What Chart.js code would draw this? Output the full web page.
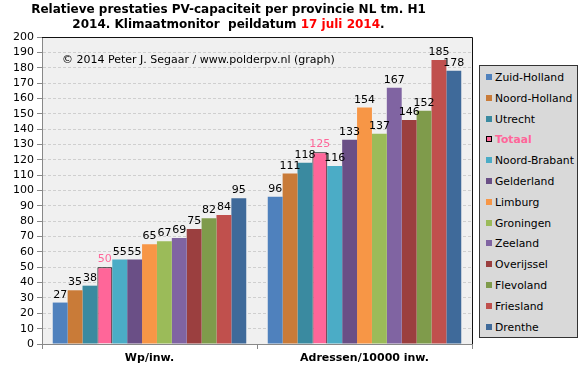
<!DOCTYPE html>
<html>
<head>
<meta charset="utf-8">
<script src="https://cdn.jsdelivr.net/npm/chart.js@4"></script>
<style>
body{margin:0;background:#fff;font-family:'DejaVu Sans',Verdana,sans-serif;}
#wrap{position:relative;width:581px;height:371px;}
#title{position:absolute;left:0;width:457px;top:2px;text-align:center;font-weight:bold;font-size:12px;line-height:15px;color:#000;}
#title span{color:#ff0000;}
#copy{position:absolute;left:62px;top:53px;font-size:11px;color:#000;}
#legend{position:absolute;left:479px;top:65px;width:97px;height:271px;background:#d9d9d9;border:1px solid #333;}
.li{position:absolute;left:6px;font-size:10.8px;line-height:14px;white-space:nowrap;}
.sw{display:inline-block;width:6px;height:6px;margin-right:3px;vertical-align:1px;}
</style>
</head>
<body>
<div id="wrap">
<canvas id="c" width="581" height="371"></canvas>
<div id="title">Relatieve prestaties PV-capaciteit per provincie NL tm. H1<br>2014. Klimaatmonitor&nbsp; peildatum <span>17 juli 2014</span>.</div>
<div id="copy">© 2014 Peter J. Segaar / www.polderpv.nl (graph)</div>
<div id="legend"></div>
</div>
<script>
const categories=['Wp/inw.','Adressen/10000 inw.'];
const provincies=['Zuid-Holland','Noord-Holland','Utrecht','Totaal','Noord-Brabant','Gelderland','Limburg','Groningen','Zeeland','Overijssel','Flevoland','Friesland','Drenthe'];
const wpPerInw=[27,35,38,50,55,55,65,67,69,75,82,84,95];
const adressenPer10000=[96,111,118,125,116,133,154,137,167,146,152,185,178];
const kleuren=['#4f81bd','#c97b38','#3a8aa0','#ff6699','#4bacc6','#6a4f86','#f79646','#9bbb59','#8064a2','#9b3f3f','#7f9b4b','#c0504d','#3f6a9a'];
const yTicks={min:0,max:200,step:10};

const datasets=provincies.map((p,i)=>({
  label:p,
  data:[wpPerInw[i],adressenPer10000[i]],
  backgroundColor:kleuren[i],
  borderColor:'#000',
  borderWidth:p==='Totaal'?1:0,
  barPercentage:1,
  categoryPercentage:0.9
}));

// legend (html)
const lg=document.getElementById('legend');
lg.innerHTML=provincies.map((p,i)=>{
  const tot=p==='Totaal';
  return `<div class="li" style="top:${5+i*20.8}px;${tot?'color:#ff6699;font-weight:bold':''}"><span class="sw" style="background:${kleuren[i]};${tot?'outline:1px solid #000;outline-offset:-1px':''}"></span>${p}</div>`;
}).join('');

const plotBg={
  id:'plotBg',
  beforeDraw(chart){
    const {ctx,chartArea:a}=chart;
    ctx.save();
    ctx.fillStyle='#f0f0f0';
    ctx.fillRect(a.left,a.top,a.right-a.left,a.bottom-a.top);
    ctx.restore();
  },
  afterDraw(chart){
    const {ctx,chartArea:a}=chart;
    ctx.save();
    ctx.strokeStyle='#111';
    ctx.lineWidth=1;
    ctx.beginPath();
    ctx.moveTo(a.left,a.top+0.5);ctx.lineTo(a.right+0.5,a.top+0.5);ctx.lineTo(a.right+0.5,a.bottom);
    ctx.stroke();
    ctx.restore();
  }
};

const valueLabels={
  id:'valueLabels',
  afterDatasetsDraw(chart){
    const ctx=chart.ctx;
    ctx.save();
    ctx.font='11px "DejaVu Sans"';
    ctx.textAlign='center';
    ctx.textBaseline='alphabetic';
    chart.data.datasets.forEach((ds,i)=>{
      const meta=chart.getDatasetMeta(i);
      meta.data.forEach((bar,j)=>{
        ctx.fillStyle=ds.label==='Totaal'?'#ff6699':'#000';
        ctx.fillText(ds.data[j],bar.x,bar.y-5);
      });
    });
    ctx.restore();
  }
};

new Chart(document.getElementById('c'),{
  type:'bar',
  data:{labels:categories,datasets},
  options:{
    responsive:false,
    animation:false,
    layout:{padding:{top:37,right:109,left:0,bottom:0}},
    plugins:{legend:{display:false},tooltip:{enabled:false}},
    scales:{
      x:{
        grid:{display:true,drawOnChartArea:false,tickLength:5,color:'#888',offset:true},
        border:{color:'#888'},
        ticks:{color:'#000',padding:3,font:{family:'DejaVu Sans',size:11,weight:'bold'}},
        afterFit(s){s.height=27;}
      },
      y:{
        min:yTicks.min,max:yTicks.max,
        ticks:{stepSize:yTicks.step,autoSkip:false,color:'#000',padding:3,font:{family:'DejaVu Sans',size:11}},
        grid:{color:'#cfcfcf',tickColor:'#888',tickLength:5,tickBorderDash:[]},
        border:{color:'#888',dash:[3,2]},
        afterFit(s){s.width=42;}
      }
    }
  },
  plugins:[plotBg,valueLabels]
});
</script>
</body>
</html>
